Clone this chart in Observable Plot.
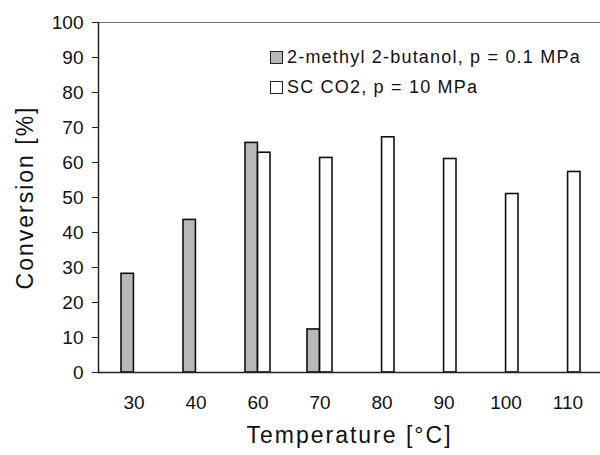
<!DOCTYPE html>
<html>
<head>
<meta charset="utf-8">
<script src="https://cdn.jsdelivr.net/npm/d3@7"></script>
<script src="https://cdn.jsdelivr.net/npm/@observablehq/plot@0.6"></script>
<style>
  html, body { margin: 0; padding: 0; background: #fff; }
  #wrap { position: relative; width: 600px; height: 455px; overflow: hidden; font-family: "Liberation Sans", Arial, sans-serif; }
  .legend { position: absolute; left: 270px; top: 42px; font-size: 18px; letter-spacing: 1.2px; color: #111; line-height: 30px; }
  .legend .row { display: flex; align-items: center; white-space: nowrap; }
  .legend .sw { display: inline-block; width: 11px; height: 11px; border: 1.5px solid #222; margin-right: 4px; }
</style>
</head>
<body>
<div id="wrap"></div>
<script>
const temps = ["30", "40", "60", "70", "80", "90", "100", "110"];
const butanol = [28.2, 43.6, 65.6, 12.3, null, null, null, null];
const sco2 = [null, null, 62.8, 61.3, 67.2, 61.0, 51.0, 57.3];
const seriesNames = ["2-methyl 2-butanol, p = 0.1 MPa", "SC CO2, p = 10 MPa"];
const seriesColors = ["#b8b8b8", "#ffffff"];
const yTicks = [0, 10, 20, 30, 40, 50, 60, 70, 80, 90, 100];

const butRows = temps.map((t, i) => ({t, v: butanol[i]})).filter(d => d.v != null);
const co2Rows = temps.map((t, i) => ({t, v: sco2[i]})).filter(d => d.v != null);

const xRange = [99, 602];
const half = (xRange[1] - xRange[0]) / temps.length * 0.4 / 2;

const chart = Plot.plot({
  width: 600,
  height: 455,
  marginLeft: 98,
  marginRight: 0,
  marginTop: 22,
  marginBottom: 83,
  style: {fontFamily: "Liberation Sans, Arial, sans-serif", fontSize: "19px", color: "#111", background: "white"},
  x: {domain: temps, range: xRange, paddingInner: 0.6, paddingOuter: 0.3, label: null},
  y: {domain: [0, 100], label: null},
  marks: [
    Plot.frame({anchor: "top", stroke: "#777", strokeWidth: 1.2}),
    Plot.barY(butRows, {x: "t", y: "v", fill: seriesColors[0], stroke: "#111", strokeWidth: 1.6, insetRight: half}),
    Plot.barY(co2Rows, {x: "t", y: "v", fill: seriesColors[1], stroke: "#111", strokeWidth: 1.6, insetLeft: half}),
    Plot.axisY({ticks: yTicks, tickSize: 6, tickPadding: 9, stroke: "#222", label: "Conversion [%]", labelAnchor: "center", labelArrow: "none", labelOffset: 82, fontSize: 19}),
    Plot.axisX({tickSize: 0, tickPadding: 23, label: "Temperature [°C]", labelAnchor: "center", labelArrow: "none", labelOffset: 70, fontSize: 19}),
    Plot.frame({anchor: "left", stroke: "#222", strokeWidth: 1.5}),
    Plot.ruleY([0], {stroke: "#222", strokeWidth: 1.5})
  ]
});

chart.querySelectorAll('[aria-label="y-axis label"] text, [aria-label="x-axis label"] text').forEach(t => {
  t.style.fontSize = "23px";
  t.style.letterSpacing = "2px";
});

const wrap = document.getElementById("wrap");
wrap.appendChild(chart);

const legend = document.createElement("div");
legend.className = "legend";
seriesNames.forEach((name, i) => {
  const row = document.createElement("div");
  row.className = "row";
  const sw = document.createElement("span");
  sw.className = "sw";
  sw.style.background = seriesColors[i];
  row.appendChild(sw);
  row.appendChild(document.createTextNode(name));
  legend.appendChild(row);
});
wrap.appendChild(legend);
</script>
</body>
</html>
